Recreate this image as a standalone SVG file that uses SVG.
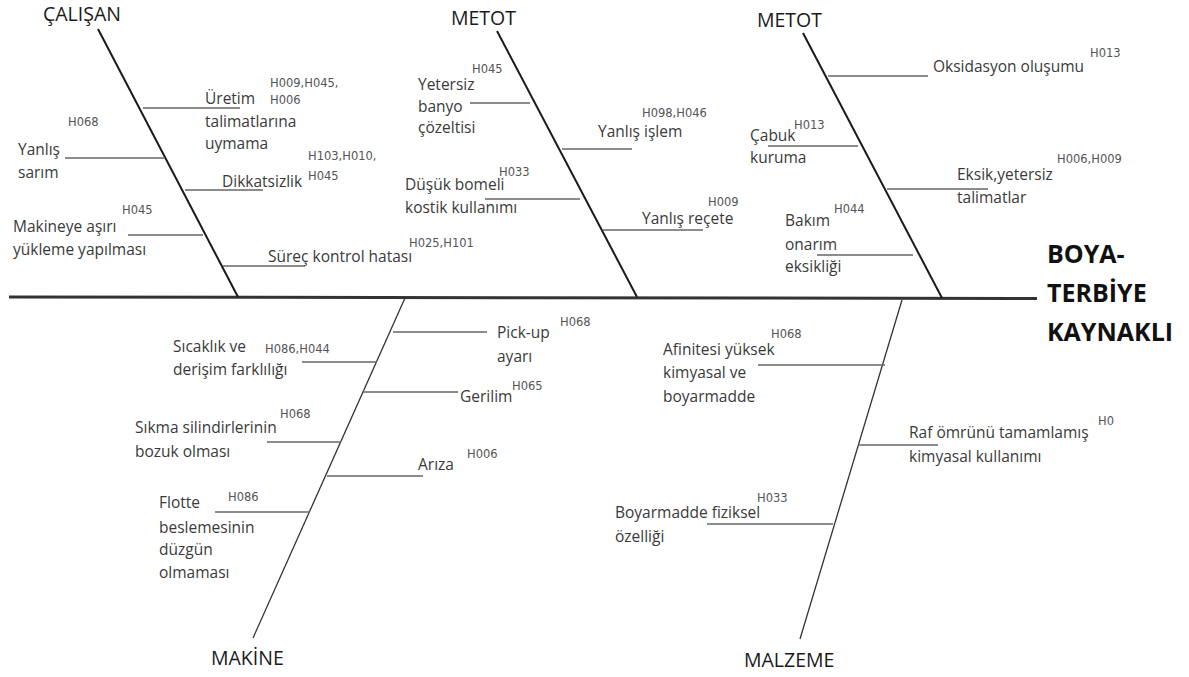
<svg xmlns="http://www.w3.org/2000/svg" width="1189" height="677" viewBox="0 0 1189 677">
<style>
.t{font-family:"Open Sans","Liberation Sans",sans-serif;font-size:15.5px;fill:#3a3a3a}
.h{font-family:"DejaVu Sans","Liberation Sans",sans-serif;font-size:11.5px;fill:#555}
.ti{font-family:"Open Sans","Liberation Sans",sans-serif;font-size:19.5px;fill:#1a1a1a}
.big{font-family:"Open Sans","Liberation Sans",sans-serif;font-size:25px;font-weight:700;fill:#111}
.spine{stroke:#333;stroke-width:3;fill:none}
.bone{stroke:#1a1a1a;stroke-width:2;fill:none}
.lbone{stroke:#333;stroke-width:1.3;fill:none}
.br{stroke:#666;stroke-width:1.5;fill:none}
</style>
<rect width="1189" height="677" fill="#fff"/>
<g id="connectors">
<line class="spine" x1="9" y1="297" x2="1037" y2="298.5"/>
<line class="bone" x1="98" y1="29" x2="238" y2="297"/>
<line class="bone" x1="497" y1="31" x2="637" y2="297"/>
<line class="bone" x1="803" y1="33" x2="942" y2="298"/>
<line class="lbone" x1="405" y1="298" x2="253" y2="638"/>
<line class="lbone" x1="902" y1="300" x2="800" y2="639"/>
<line class="br" x1="143" y1="108" x2="240" y2="108"/>
<line class="br" x1="65" y1="158" x2="165" y2="158"/>
<line class="br" x1="185" y1="190" x2="263" y2="190"/>
<line class="br" x1="128" y1="235" x2="203" y2="235"/>
<line class="br" x1="223" y1="266" x2="305" y2="266"/>
<line class="br" x1="470" y1="103" x2="530" y2="103"/>
<line class="br" x1="562" y1="149" x2="632" y2="149"/>
<line class="br" x1="485" y1="199" x2="580" y2="199"/>
<line class="br" x1="603" y1="230" x2="703" y2="230"/>
<line class="br" x1="828" y1="76" x2="928" y2="76"/>
<line class="br" x1="768" y1="146" x2="858" y2="146"/>
<line class="br" x1="887" y1="189" x2="988" y2="189"/>
<line class="br" x1="817" y1="255" x2="913" y2="255"/>
<line class="br" x1="393" y1="332" x2="487" y2="332"/>
<line class="br" x1="302" y1="362" x2="377" y2="362"/>
<line class="br" x1="363" y1="392" x2="458" y2="392"/>
<line class="br" x1="267" y1="442" x2="341" y2="442"/>
<line class="br" x1="327" y1="476" x2="423" y2="476"/>
<line class="br" x1="215" y1="512" x2="310" y2="512"/>
<line class="br" x1="758" y1="365" x2="885" y2="365"/>
<line class="br" x1="858" y1="445" x2="938" y2="445"/>
<line class="br" x1="707" y1="524" x2="833" y2="524"/>
</g>
<g id="effect"><text class="big" x="1047" y="263">BOYA-</text><text class="big" x="1047" y="302">TERBİYE</text><text class="big" x="1047" y="341">KAYNAKLI</text></g>
<g id="cat-calisan"><text class="ti" x="43" y="21">ÇALIŞAN</text></g>
<g id="cat-metot1"><text class="ti" x="451" y="25">METOT</text></g>
<g id="cat-metot2"><text class="ti" x="757" y="27">METOT</text></g>
<g id="cat-makine"><text class="ti" x="211" y="665">MAKİNE</text></g>
<g id="cat-malzeme"><text class="ti" x="744" y="667">MALZEME</text></g>
<g id="c-uretim"><text class="t" x="205" y="104">Üretim</text><text class="t" x="205" y="127">talimatlarına</text><text class="t" x="205" y="149">uymama</text><text class="h" x="270" y="87">H009,H045,</text><text class="h" x="270" y="104">H006</text></g>
<g id="c-yanlis-sarim"><text class="t" x="18" y="155">Yanlış</text><text class="t" x="18" y="178">sarım</text><text class="h" x="68" y="126">H068</text></g>
<g id="c-dikkatsizlik"><text class="t" x="222" y="187">Dikkatsizlik</text><text class="h" x="308" y="160">H103,H010,</text><text class="h" x="308" y="180">H045</text></g>
<g id="c-makineye"><text class="t" x="13" y="232">Makineye aşırı</text><text class="t" x="13" y="255">yükleme yapılması</text><text class="h" x="122" y="214">H045</text></g>
<g id="c-surec"><text class="t" x="268" y="262">Süreç kontrol hatası</text><text class="h" x="409" y="247">H025,H101</text></g>
<g id="c-yetersiz"><text class="t" x="418" y="90">Yetersiz</text><text class="t" x="418" y="112">banyo</text><text class="t" x="418" y="133">çözeltisi</text><text class="h" x="472" y="73">H045</text></g>
<g id="c-yanlis-islem"><text class="t" x="598" y="137">Yanlış işlem</text><text class="h" x="642" y="117">H098,H046</text></g>
<g id="c-dusuk"><text class="t" x="405" y="190">Düşük bomeli</text><text class="t" x="405" y="213">kostik  kullanımı</text><text class="h" x="499" y="176">H033</text></g>
<g id="c-recete"><text class="t" x="642" y="224">Yanlış reçete</text><text class="h" x="708" y="206">H009</text></g>
<g id="c-oksidasyon"><text class="t" x="933" y="72">Oksidasyon oluşumu</text><text class="h" x="1090" y="57">H013</text></g>
<g id="c-cabuk"><text class="t" x="750" y="141">Çabuk</text><text class="t" x="750" y="163">kuruma</text><text class="h" x="794" y="129">H013</text></g>
<g id="c-eksik"><text class="t" x="957" y="180">Eksik,yetersiz</text><text class="t" x="957" y="203">talimatlar</text><text class="h" x="1057" y="163">H006,H009</text></g>
<g id="c-bakim"><text class="t" x="785" y="226">Bakım</text><text class="t" x="785" y="250">onarım</text><text class="t" x="785" y="272">eksikliği</text><text class="h" x="834" y="213">H044</text></g>
<g id="c-pickup"><text class="t" x="497" y="338">Pick-up</text><text class="t" x="497" y="362">ayarı</text><text class="h" x="560" y="326">H068</text></g>
<g id="c-sicaklik"><text class="t" x="173" y="352">Sıcaklık ve</text><text class="t" x="173" y="375">derişim  farklılığı</text><text class="h" x="265" y="353">H086,H044</text></g>
<g id="c-gerilim"><text class="t" x="460" y="402">Gerilim</text><text class="h" x="512" y="390">H065</text></g>
<g id="c-sikma"><text class="t" x="135" y="433">Sıkma silindirlerinin</text><text class="t" x="135" y="457">bozuk olması</text><text class="h" x="280" y="418">H068</text></g>
<g id="c-ariza"><text class="t" x="418" y="470">Arıza</text><text class="h" x="467" y="458">H006</text></g>
<g id="c-flotte"><text class="t" x="159" y="508">Flotte</text><text class="t" x="159" y="533">beslemesinin</text><text class="t" x="159" y="555">düzgün</text><text class="t" x="159" y="578">olmaması</text><text class="h" x="228" y="501">H086</text></g>
<g id="c-afinite"><text class="t" x="663" y="355">Afinitesi yüksek</text><text class="t" x="663" y="378">kimyasal ve</text><text class="t" x="663" y="402">boyarmadde</text><text class="h" x="771" y="338">H068</text></g>
<g id="c-raf"><text class="t" x="909" y="438">Raf ömrünü tamamlamış</text><text class="t" x="909" y="462">kimyasal kullanımı</text><text class="h" x="1098" y="425">H0</text></g>
<g id="c-fiziksel"><text class="t" x="615" y="518">Boyarmadde fiziksel</text><text class="t" x="615" y="542">özelliği</text><text class="h" x="757" y="502">H033</text></g>
</svg>
